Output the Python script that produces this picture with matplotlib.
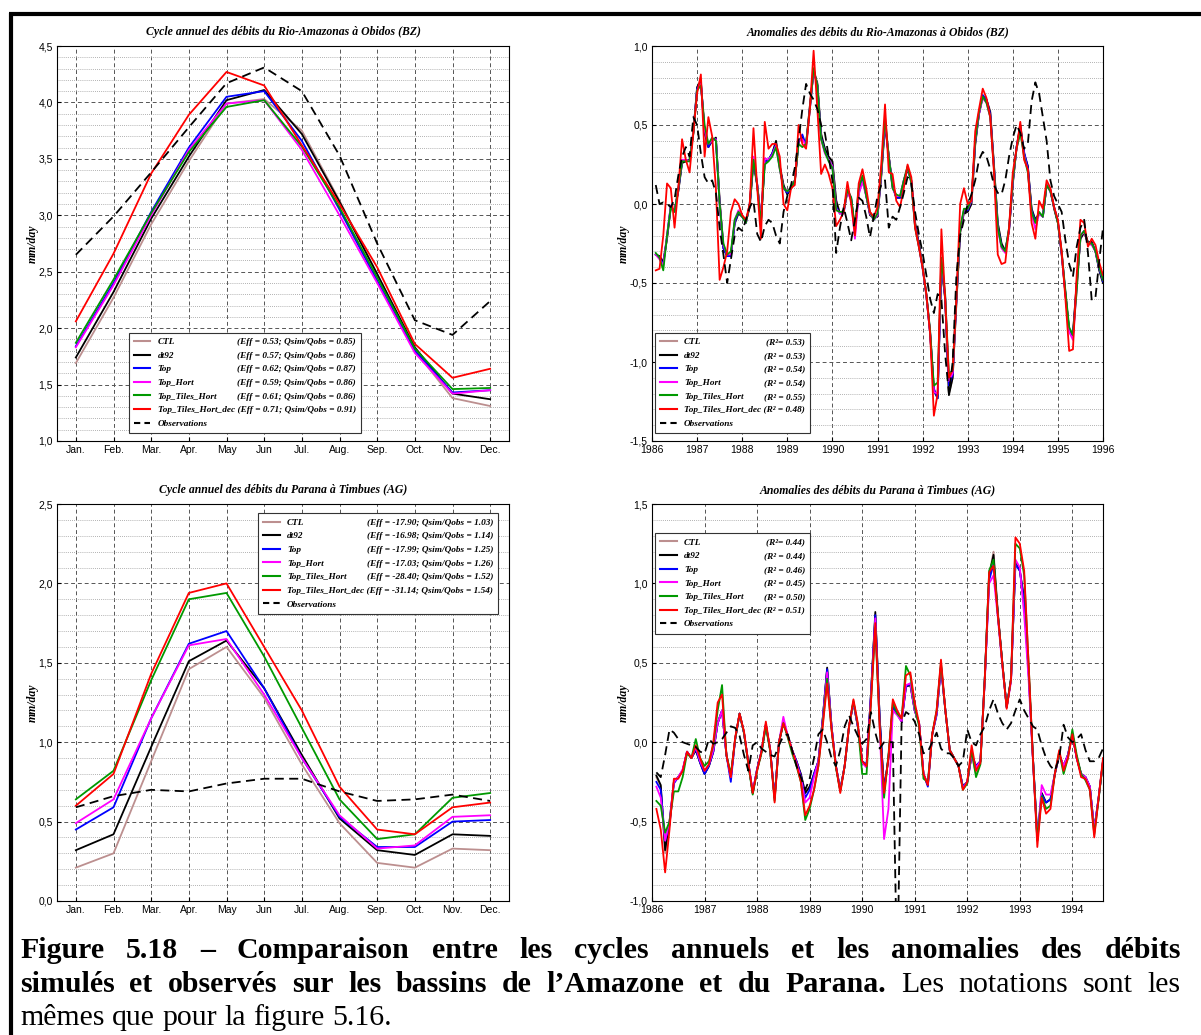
import numpy as np, matplotlib
matplotlib.use("Agg"); import matplotlib.pyplot as plt
from matplotlib.ticker import MultipleLocator, FuncFormatter
from matplotlib.lines import Line2D

W, H = 1201, 1035
plt.rcParams["font.family"] = ["Liberation Sans", "DejaVu Sans"]
SERIF = dict(family="Liberation Serif", style="italic", weight="bold")

names = ["CTL", "dt92", "Top", "Top_Hort", "Top_Tiles_Hort", "Top_Tiles_Hort_dec"]
colors = ["#bc8f8f", "#000000", "#0000ff", "#ff00ff", "#009900", "#ff0000"]
month_labels = ["Jan.", "Feb.", "Mar.", "Apr.", "May", "Jun", "Jul.", "Aug.", "Sep.", "Oct.", "Nov.", "Dec."]

# ---- Amazon at Obidos, annual cycle (mm/day)
amz_cyc_ctl = [1.69, 2.27, 2.92, 3.48, 3.99, 4.03, 3.75, 3.13, 2.48, 1.80, 1.38, 1.31]
amz_cyc_dt92 = [1.74, 2.32, 2.97, 3.52, 4.02, 4.11, 3.72, 3.12, 2.48, 1.83, 1.42, 1.37]
amz_cyc_top = [1.84, 2.40, 3.03, 3.60, 4.05, 4.10, 3.66, 3.05, 2.42, 1.80, 1.43, 1.45]
amz_cyc_top_hort = [1.83, 2.38, 3.00, 3.58, 3.99, 4.02, 3.58, 3.00, 2.40, 1.78, 1.42, 1.45]
amz_cyc_tiles = [1.87, 2.43, 3.02, 3.56, 3.96, 4.02, 3.61, 3.07, 2.45, 1.82, 1.46, 1.47]
amz_cyc_dec = [2.06, 2.66, 3.37, 3.89, 4.27, 4.15, 3.62, 3.10, 2.54, 1.86, 1.56, 1.64]
amz_cyc_obs = [2.65, 2.99, 3.38, 3.78, 4.17, 4.31, 4.10, 3.53, 2.75, 2.07, 1.94, 2.24]
amz_cyc_stats = ["(Eff = 0.53; Qsim/Qobs = 0.85)", "(Eff = 0.57; Qsim/Qobs = 0.86)",
                 "(Eff = 0.62; Qsim/Qobs = 0.87)", "(Eff = 0.59; Qsim/Qobs = 0.86)",
                 "(Eff = 0.61; Qsim/Qobs = 0.86)", "(Eff = 0.71; Qsim/Qobs = 0.91)"]

# ---- Parana at Timbues, annual cycle (mm/day)
par_cyc_ctl = [0.21, 0.30, 0.88, 1.46, 1.60, 1.28, 0.86, 0.49, 0.24, 0.21, 0.33, 0.32]
par_cyc_dt92 = [0.32, 0.42, 0.97, 1.51, 1.64, 1.34, 0.92, 0.52, 0.32, 0.29, 0.42, 0.41]
par_cyc_top = [0.45, 0.59, 1.15, 1.62, 1.70, 1.34, 0.90, 0.53, 0.34, 0.34, 0.50, 0.51]
par_cyc_top_hort = [0.49, 0.64, 1.15, 1.61, 1.65, 1.30, 0.90, 0.54, 0.33, 0.35, 0.53, 0.54]
par_cyc_tiles = [0.64, 0.82, 1.39, 1.90, 1.94, 1.54, 1.09, 0.64, 0.39, 0.42, 0.65, 0.68]
par_cyc_dec = [0.60, 0.80, 1.43, 1.94, 2.00, 1.60, 1.20, 0.72, 0.45, 0.42, 0.59, 0.62]
par_cyc_obs = [0.59, 0.66, 0.70, 0.69, 0.74, 0.77, 0.77, 0.69, 0.63, 0.64, 0.67, 0.63]
par_cyc_stats = ["(Eff = -17.90; Qsim/Qobs = 1.03)", "(Eff = -16.98; Qsim/Qobs = 1.14)",
                 "(Eff = -17.99; Qsim/Qobs = 1.25)", "(Eff = -17.03; Qsim/Qobs = 1.26)",
                 "(Eff = -28.40; Qsim/Qobs = 1.52)", "(Eff = -31.14; Qsim/Qobs = 1.54)"]

# ---- Amazon monthly anomalies, Feb 1986 .. Jan 1996 (mm/day)
amz_anom_ctl = [-0.32, -0.33, -0.36, -0.22, -0.03, -0.04, 0.08, 0.26, 0.27, 0.28, 0.44, 0.73,
                0.77, 0.45, 0.36, 0.40, 0.42, 0.03, -0.27, -0.33, -0.32, -0.13, -0.06, -0.08,
                -0.10, -0.02, 0.26, 0.11, -0.10, 0.26, 0.28, 0.32, 0.39, 0.24, 0.12, 0.06,
                0.10, 0.14, 0.40, 0.41, 0.38, 0.62, 0.83, 0.77, 0.45, 0.35, 0.30, 0.27,
                0.03, -0.06, -0.04, 0.08, 0.03, -0.16, 0.07, 0.16, 0.06, -0.07, -0.09, -0.08,
                0.17, 0.50, 0.31, 0.12, 0.04, 0.04, 0.14, 0.22, 0.15, -0.11, -0.25, -0.40,
                -0.58, -0.82, -1.17, -1.22, -0.40, -0.60, -1.20, -1.10, -0.63, -0.18, -0.06, -0.05,
                0.00, 0.37, 0.57, 0.68, 0.66, 0.59, 0.25, -0.12, -0.25, -0.29, -0.17, 0.12,
                0.36, 0.49, 0.32, 0.24, -0.03, -0.10, -0.06, -0.08, 0.12, 0.09, -0.03, -0.12,
                -0.32, -0.57, -0.80, -0.82, -0.50, -0.22, -0.18, -0.24, -0.24, -0.30, -0.42, -0.50]
amz_anom_dt92 = [-0.32, -0.33, -0.37, -0.22, -0.02, -0.04, 0.08, 0.26, 0.27, 0.28, 0.45, 0.74,
                 0.78, 0.45, 0.36, 0.40, 0.42, 0.02, -0.28, -0.33, -0.32, -0.12, -0.06, -0.08,
                 -0.11, -0.02, 0.27, 0.12, -0.10, 0.27, 0.28, 0.32, 0.40, 0.24, 0.12, 0.06,
                 0.10, 0.14, 0.40, 0.42, 0.38, 0.62, 0.84, 0.76, 0.44, 0.35, 0.30, 0.27,
                 0.02, -0.06, -0.04, 0.08, 0.03, -0.17, 0.07, 0.16, 0.06, -0.07, -0.09, -0.08,
                 0.18, 0.50, 0.30, 0.12, 0.04, 0.04, 0.14, 0.22, 0.15, -0.12, -0.25, -0.40,
                 -0.58, -0.82, -1.18, -1.23, -0.38, -0.60, -1.21, -1.10, -0.62, -0.18, -0.05, -0.05,
                 0.00, 0.38, 0.57, 0.68, 0.66, 0.58, 0.24, -0.12, -0.25, -0.30, -0.17, 0.13,
                 0.36, 0.50, 0.32, 0.24, -0.03, -0.10, -0.06, -0.08, 0.12, 0.09, -0.03, -0.12,
                 -0.32, -0.57, -0.80, -0.82, -0.50, -0.22, -0.18, -0.24, -0.24, -0.30, -0.42, -0.50]
amz_anom_top = [-0.32, -0.34, -0.38, -0.20, -0.01, -0.05, 0.09, 0.27, 0.28, 0.27, 0.46, 0.73,
                0.77, 0.46, 0.36, 0.41, 0.41, 0.00, -0.28, -0.33, -0.33, -0.12, -0.05, -0.08,
                -0.12, 0.00, 0.28, 0.12, -0.11, 0.27, 0.28, 0.32, 0.38, 0.23, 0.10, 0.07,
                0.10, 0.15, 0.39, 0.44, 0.37, 0.60, 0.85, 0.75, 0.42, 0.33, 0.28, 0.24,
                -0.02, -0.06, -0.05, 0.09, 0.04, -0.17, 0.09, 0.17, 0.05, -0.06, -0.10, -0.07,
                0.19, 0.52, 0.30, 0.11, 0.04, 0.04, 0.15, 0.23, 0.14, -0.14, -0.26, -0.40,
                -0.57, -0.81, -1.17, -1.23, -0.37, -0.59, -1.15, -1.08, -0.60, -0.16, -0.04, -0.04,
                0.02, 0.39, 0.57, 0.69, 0.66, 0.57, 0.23, -0.14, -0.27, -0.30, -0.16, 0.14,
                0.36, 0.48, 0.33, 0.23, -0.04, -0.11, -0.06, -0.08, 0.12, 0.08, -0.02, -0.11,
                -0.31, -0.56, -0.80, -0.84, -0.52, -0.20, -0.17, -0.25, -0.25, -0.30, -0.41, -0.49]
amz_anom_top_hort = [-0.32, -0.35, -0.39, -0.20, -0.01, -0.05, 0.10, 0.28, 0.28, 0.27, 0.46, 0.72,
                     0.76, 0.47, 0.38, 0.40, 0.41, 0.00, -0.26, -0.32, -0.32, -0.10, -0.04, -0.07,
                     -0.12, 0.00, 0.30, 0.13, -0.10, 0.29, 0.28, 0.31, 0.37, 0.22, 0.10, 0.08,
                     0.10, 0.15, 0.40, 0.41, 0.37, 0.60, 0.85, 0.74, 0.41, 0.32, 0.28, 0.24,
                     -0.03, -0.06, -0.06, 0.08, 0.02, -0.22, 0.06, 0.14, 0.05, -0.06, -0.10, -0.07,
                     0.19, 0.53, 0.30, 0.10, 0.05, 0.05, 0.15, 0.23, 0.14, -0.14, -0.27, -0.41,
                     -0.58, -0.82, -1.19, -1.20, -0.36, -0.58, -1.12, -1.07, -0.60, -0.16, -0.04, -0.03,
                     0.02, 0.40, 0.57, 0.67, 0.64, 0.55, 0.22, -0.16, -0.28, -0.31, -0.16, 0.14,
                     0.35, 0.46, 0.31, 0.21, -0.06, -0.16, -0.06, -0.08, 0.12, 0.08, -0.02, -0.11,
                     -0.31, -0.57, -0.81, -0.86, -0.54, -0.20, -0.18, -0.25, -0.26, -0.30, -0.40, -0.48]
amz_anom_tiles = [-0.31, -0.34, -0.42, -0.20, -0.02, -0.05, 0.10, 0.27, 0.27, 0.27, 0.45, 0.72,
                  0.75, 0.50, 0.38, 0.42, 0.40, 0.00, -0.25, -0.32, -0.30, -0.10, -0.05, -0.08,
                  -0.12, 0.00, 0.28, 0.12, -0.12, 0.25, 0.27, 0.30, 0.36, 0.22, 0.10, 0.08,
                  0.10, 0.15, 0.38, 0.36, 0.38, 0.60, 0.86, 0.75, 0.41, 0.33, 0.27, 0.23,
                  -0.04, -0.05, -0.05, 0.09, 0.04, -0.15, 0.10, 0.18, 0.05, -0.05, -0.10, -0.06,
                  0.20, 0.55, 0.30, 0.10, 0.06, 0.05, 0.15, 0.24, 0.13, -0.15, -0.27, -0.40,
                  -0.57, -0.80, -1.15, -1.13, -0.34, -0.57, -1.08, -1.05, -0.59, -0.15, -0.03, -0.03,
                  0.03, 0.40, 0.58, 0.68, 0.64, 0.55, 0.22, -0.15, -0.27, -0.30, -0.15, 0.15,
                  0.35, 0.45, 0.30, 0.20, -0.05, -0.12, -0.05, -0.08, 0.12, 0.08, -0.02, -0.12,
                  -0.30, -0.55, -0.78, -0.83, -0.55, -0.20, -0.17, -0.25, -0.25, -0.30, -0.40, -0.48]
amz_anom_dec = [-0.42, -0.41, -0.20, 0.13, 0.10, -0.15, 0.10, 0.41, 0.28, 0.20, 0.45, 0.70,
                0.82, 0.30, 0.55, 0.43, 0.10, -0.48, -0.40, -0.30, -0.05, 0.03, 0.00, -0.07,
                -0.10, 0.00, 0.48, 0.10, -0.22, 0.52, 0.35, 0.38, 0.38, 0.30, 0.00, -0.04,
                0.10, 0.12, 0.50, 0.38, 0.35, 0.60, 0.97, 0.60, 0.19, 0.25, 0.19, 0.10,
                -0.14, -0.10, -0.05, 0.14, 0.00, -0.20, 0.13, 0.22, 0.10, -0.05, -0.08, -0.02,
                0.25, 0.63, 0.20, 0.19, 0.02, -0.02, 0.10, 0.25, 0.17, -0.15, -0.27, -0.40,
                -0.57, -0.82, -1.34, -1.20, -0.16, -0.60, -1.10, -1.05, -0.59, 0.00, 0.10, 0.00,
                0.02, 0.46, 0.60, 0.73, 0.67, 0.55, 0.20, -0.32, -0.38, -0.37, -0.15, 0.20,
                0.35, 0.52, 0.28, 0.22, -0.12, -0.22, 0.02, -0.03, 0.15, 0.10, -0.02, -0.10,
                -0.30, -0.60, -0.93, -0.92, -0.45, -0.10, -0.12, -0.27, -0.22, -0.26, -0.37, -0.45]
amz_anom_obs = [0.12, 0.00, 0.01, 0.00, -0.02, 0.03, 0.18, 0.30, 0.36, 0.30, 0.55, 0.50,
                0.32, 0.17, 0.13, 0.15, 0.07, -0.15, -0.32, -0.50, -0.35, -0.20, -0.15, -0.17,
                -0.10, -0.02, 0.02, -0.19, -0.24, -0.14, -0.10, -0.12, -0.20, -0.25, -0.05, 0.05,
                0.12, 0.23, 0.40, 0.60, 0.76, 0.70, 0.66, 0.60, 0.50, 0.45, 0.30, 0.15,
                -0.31, -0.15, -0.02, -0.12, -0.23, -0.10, 0.04, 0.02, -0.08, -0.21, -0.08, 0.05,
                0.12, 0.15, -0.15, -0.08, -0.10, -0.02, 0.07, 0.17, 0.13, -0.05, -0.19, -0.31,
                -0.45, -0.60, -0.69, -0.57, -0.60, -0.95, -1.20, -1.00, -0.45, -0.20, -0.10, 0.00,
                0.06, 0.15, 0.28, 0.33, 0.30, 0.22, 0.12, 0.07, 0.06, 0.15, 0.30, 0.42,
                0.50, 0.45, 0.35, 0.38, 0.65, 0.77, 0.70, 0.55, 0.40, 0.15, 0.05, 0.00,
                -0.05, -0.23, -0.38, -0.46, -0.27, -0.15, -0.10, -0.31, -0.61, -0.59, -0.36, -0.15]
amz_anom_stats = ["(R²= 0.53)", "(R² = 0.53)", "(R² = 0.54)", "(R² = 0.54)", "(R² = 0.55)", "(R² = 0.48)"]

# ---- Parana monthly anomalies, Feb 1986 .. Aug 1994 (mm/day)
par_anom_ctl = [-0.22, -0.28, -0.70, -0.52, -0.25, -0.22, -0.18, -0.06, -0.10, -0.05, -0.13, -0.20,
                -0.15, -0.06, 0.12, 0.19, -0.08, -0.22, 0.02, 0.18, 0.06, -0.13, -0.32, -0.17,
                -0.06, 0.11, -0.05, -0.35, 0.00, 0.12, 0.04, -0.05, -0.12, -0.20, -0.32, -0.28,
                -0.20, -0.12, 0.15, 0.46, 0.10, -0.15, -0.30, -0.15, 0.10, 0.25, 0.10, -0.12,
                -0.15, 0.30, 0.80, 0.15, -0.30, -0.10, 0.22, 0.18, 0.13, 0.35, 0.36, 0.20,
                0.12, -0.20, -0.27, 0.05, 0.18, 0.47, 0.20, -0.05, -0.10, -0.15, -0.28, -0.26,
                -0.08, -0.20, -0.12, 0.40, 1.05, 1.20, 0.82, 0.50, 0.22, 0.40, 1.13, 1.08,
                0.90, 0.45, -0.10, -0.62, -0.32, -0.38, -0.36, -0.20, -0.08, -0.15, -0.08, 0.05,
                -0.10, -0.20, -0.22, -0.28, -0.57, -0.35, -0.12]
par_anom_dt92 = [-0.21, -0.27, -0.68, -0.50, -0.25, -0.22, -0.18, -0.06, -0.10, -0.05, -0.13, -0.20,
                 -0.15, -0.06, 0.12, 0.20, -0.08, -0.22, 0.02, 0.18, 0.06, -0.13, -0.32, -0.17,
                 -0.06, 0.11, -0.05, -0.35, 0.00, 0.12, 0.04, -0.05, -0.12, -0.20, -0.32, -0.28,
                 -0.20, -0.12, 0.15, 0.47, 0.10, -0.15, -0.30, -0.15, 0.10, 0.25, 0.10, -0.12,
                 -0.15, 0.30, 0.82, 0.15, -0.30, -0.10, 0.22, 0.18, 0.13, 0.35, 0.36, 0.20,
                 0.12, -0.20, -0.27, 0.05, 0.18, 0.48, 0.20, -0.05, -0.10, -0.15, -0.28, -0.25,
                 -0.08, -0.15, -0.12, 0.40, 1.05, 1.18, 0.80, 0.50, 0.22, 0.40, 1.13, 1.08,
                 0.90, 0.45, -0.10, -0.60, -0.32, -0.38, -0.36, -0.20, -0.08, -0.15, -0.08, 0.05,
                 -0.10, -0.20, -0.22, -0.28, -0.55, -0.35, -0.12]
par_anom_top = [-0.25, -0.30, -0.62, -0.52, -0.26, -0.22, -0.18, -0.06, -0.10, -0.04, -0.13, -0.20,
                -0.15, -0.06, 0.12, 0.20, -0.08, -0.25, 0.02, 0.18, 0.06, -0.13, -0.32, -0.17,
                -0.06, 0.11, -0.05, -0.35, 0.00, 0.13, 0.04, -0.05, -0.12, -0.21, -0.35, -0.30,
                -0.20, -0.12, 0.15, 0.46, 0.10, -0.15, -0.30, -0.15, 0.10, 0.25, 0.10, -0.12,
                -0.14, 0.30, 0.80, 0.15, -0.30, -0.10, 0.22, 0.18, 0.13, 0.35, 0.37, 0.20,
                0.12, -0.20, -0.28, 0.05, 0.17, 0.48, 0.20, -0.05, -0.10, -0.15, -0.28, -0.25,
                -0.08, -0.15, -0.12, 0.40, 1.02, 1.12, 0.80, 0.50, 0.22, 0.40, 1.12, 1.08,
                0.88, 0.45, -0.10, -0.60, -0.33, -0.38, -0.36, -0.20, -0.08, -0.15, -0.08, 0.05,
                -0.10, -0.20, -0.22, -0.28, -0.55, -0.35, -0.12]
par_anom_top_hort = [-0.28, -0.35, -0.62, -0.50, -0.25, -0.22, -0.17, -0.06, -0.10, -0.03, -0.12, -0.18,
                     -0.14, -0.05, 0.12, 0.20, -0.08, -0.22, 0.02, 0.18, 0.06, -0.13, -0.31, -0.17,
                     -0.06, 0.11, -0.05, -0.36, 0.00, 0.16, 0.04, -0.05, -0.13, -0.22, -0.38, -0.35,
                     -0.22, -0.12, 0.14, 0.44, 0.10, -0.15, -0.30, -0.15, 0.10, 0.25, 0.10, -0.13,
                     -0.16, 0.28, 0.78, 0.10, -0.61, -0.42, 0.20, 0.17, 0.13, 0.36, 0.37, 0.20,
                     0.12, -0.20, -0.26, 0.05, 0.18, 0.48, 0.20, -0.05, -0.10, -0.15, -0.29, -0.25,
                     -0.08, -0.16, -0.12, 0.38, 1.00, 1.05, 0.78, 0.48, 0.22, 0.38, 1.15, 1.10,
                     0.80, 0.40, -0.12, -0.62, -0.27, -0.33, -0.33, -0.20, -0.08, -0.15, -0.08, 0.05,
                     -0.10, -0.20, -0.22, -0.28, -0.55, -0.35, -0.12]
par_anom_tiles = [-0.37, -0.40, -0.57, -0.50, -0.31, -0.31, -0.22, -0.07, -0.10, 0.02, -0.10, -0.15,
                  -0.12, -0.02, 0.20, 0.36, -0.08, -0.20, 0.02, 0.18, 0.06, -0.14, -0.33, -0.18,
                  -0.07, 0.10, -0.06, -0.37, 0.00, 0.12, 0.03, -0.07, -0.15, -0.25, -0.49, -0.42,
                  -0.30, -0.15, 0.12, 0.40, 0.08, -0.16, -0.31, -0.15, 0.10, 0.26, 0.11, -0.20,
                  -0.20, 0.25, 0.72, 0.10, -0.35, -0.08, 0.25, 0.18, 0.15, 0.48, 0.42, 0.22,
                  0.10, -0.23, -0.25, 0.05, 0.20, 0.50, 0.20, -0.05, -0.10, -0.15, -0.30, -0.26,
                  -0.05, -0.22, -0.14, 0.40, 1.08, 1.15, 0.80, 0.50, 0.22, 0.40, 1.25, 1.22,
                  1.05, 0.50, -0.10, -0.62, -0.34, -0.42, -0.40, -0.20, -0.06, -0.20, -0.10, 0.08,
                  -0.08, -0.20, -0.24, -0.30, -0.58, -0.36, -0.12]
par_anom_dec = [-0.42, -0.55, -0.82, -0.55, -0.23, -0.23, -0.18, -0.06, -0.10, -0.02, -0.10, -0.18,
                -0.14, 0.00, 0.25, 0.30, -0.08, -0.22, 0.03, 0.18, 0.07, -0.13, -0.32, -0.18,
                -0.06, 0.13, -0.05, -0.38, 0.00, 0.12, 0.04, -0.05, -0.14, -0.25, -0.46, -0.40,
                -0.30, -0.15, 0.10, 0.37, 0.08, -0.15, -0.32, -0.15, 0.10, 0.27, 0.12, -0.12,
                -0.15, 0.25, 0.75, 0.10, -0.32, -0.10, 0.27, 0.20, 0.15, 0.42, 0.44, 0.25,
                0.12, -0.20, -0.27, 0.05, 0.20, 0.52, 0.20, -0.05, -0.10, -0.15, -0.30, -0.25,
                -0.02, -0.18, -0.13, 0.40, 1.07, 1.11, 0.80, 0.50, 0.21, 0.40, 1.29, 1.25,
                1.08, 0.50, -0.10, -0.66, -0.35, -0.45, -0.42, -0.20, -0.05, -0.18, -0.10, 0.05,
                -0.10, -0.22, -0.23, -0.30, -0.60, -0.35, -0.10]
par_anom_obs = [-0.19, -0.22, -0.08, 0.08, 0.06, 0.02, 0.00, -0.01, -0.02, -0.03, -0.06, -0.07,
                0.02, -0.01, 0.00, 0.02, 0.06, 0.10, 0.09, 0.04, -0.08, -0.18, -0.02, 0.00,
                -0.04, -0.06, -0.08, -0.09, -0.02, 0.04, 0.05, -0.05, -0.15, -0.22, -0.30, -0.23,
                -0.10, 0.05, 0.08, 0.00, -0.10, -0.15, -0.05, 0.10, 0.17, 0.10, 0.04, -0.01,
                0.02, 0.19, 0.06, -0.04, 0.00, 0.00, 0.00, -1.50, 0.12, 0.19, 0.17, 0.13,
                0.05, -0.07, -0.06, 0.00, 0.06, -0.04, -0.07, -0.07, -0.10, -0.15, -0.12, 0.08,
                0.00, -0.02, 0.05, 0.10, 0.20, 0.27, 0.18, 0.12, 0.08, 0.12, 0.20, 0.27,
                0.20, 0.15, 0.10, 0.08, -0.02, -0.10, -0.15, -0.18, -0.10, 0.11, 0.03, 0.00,
                0.02, 0.05, -0.05, -0.12, -0.12, -0.10, -0.04]
par_anom_stats = ["(R²= 0.44)", "(R² = 0.44)", "(R² = 0.46)", "(R² = 0.45)", "(R² = 0.50)", "(R² = 0.51)"]

fig = plt.figure(figsize=(W / 100, H / 100), dpi=100)
legends = []
LEG = 6.7

def fmt_comma(v, p):
    return f"{round(v, 3) + 0.0:.1f}".replace(".", ",")

def panel(rect, x, runs, obs, stats, title, ylim, loc, anchor):
    l, t, w, h = rect
    ax = fig.add_axes([l / W, 1 - (t + h) / H, w / W, h / H])
    for y, c in zip(runs, colors):
        ax.plot(x, y, color=c, lw=1.3)
    ax.plot(x, obs, color="black", lw=1.3, ls=(0, (5, 3)))
    ax.set_ylim(*ylim)
    ax.yaxis.set_major_locator(MultipleLocator(0.5))
    ax.yaxis.set_minor_locator(MultipleLocator(0.1))
    ax.yaxis.set_major_formatter(FuncFormatter(fmt_comma))
    ax.grid(which="major", ls=(0, (4, 3)), color="#555555", lw=0.7)
    ax.grid(which="minor", axis="y", ls=(0, (1, 1.5)), color="#999999", lw=0.6)
    ax.tick_params(which="major", direction="in", labelsize=7.5, length=3, pad=3)
    ax.tick_params(which="minor", length=0)
    for s in ax.spines.values():
        s.set_linewidth(0.8)
    ax.set_title(title, fontsize=8.5, pad=8, **SERIF)
    ax.set_ylabel("mm/day", fontsize=8.5, labelpad=0, **SERIF)
    hs = [Line2D([], [], color=c, lw=1.5) for c in colors]
    hs.append(Line2D([], [], color="black", lw=1.5, ls=(0, (3, 2))))
    labs = names[:5] + [names[5] + " " + stats[5], "Observations"]
    leg = ax.legend(hs, labs, loc=loc, bbox_to_anchor=anchor, borderaxespad=0,
                    fancybox=False, framealpha=1, edgecolor="#333333", handlelength=1.75,
                    handletextpad=0.8, labelspacing=0.55, borderpad=0.55,
                    prop=dict(size=LEG, **SERIF))
    leg.get_frame().set_linewidth(0.8)
    legends.append((leg, stats))
    return ax

months = np.arange(1, 13)
t_amz = 1986 + np.arange(1, len(amz_anom_obs) + 1) / 12
t_par = 1986 + np.arange(1, len(par_anom_obs) + 1) / 12

ax1 = panel((57, 46, 452, 395), months,
            [amz_cyc_ctl, amz_cyc_dt92, amz_cyc_top, amz_cyc_top_hort, amz_cyc_tiles, amz_cyc_dec],
            amz_cyc_obs, amz_cyc_stats, "Cycle annuel des débits du Rio-Amazonas à Obidos (BZ)",
            (1.0, 4.5), "lower left", (0.159, 0.02))
ax2 = panel((652, 46, 451, 395), t_amz,
            [amz_anom_ctl, amz_anom_dt92, amz_anom_top, amz_anom_top_hort, amz_anom_tiles, amz_anom_dec],
            amz_anom_obs, amz_anom_stats, "Anomalies des débits du Rio-Amazonas à Obidos (BZ)",
            (-1.5, 1.0), "lower left", (0.007, 0.02))
ax3 = panel((57, 504, 452, 397), months,
            [par_cyc_ctl, par_cyc_dt92, par_cyc_top, par_cyc_top_hort, par_cyc_tiles, par_cyc_dec],
            par_cyc_obs, par_cyc_stats, "Cycle annuel des débits du Parana à Timbues (AG)",
            (0.0, 2.5), "upper right", (0.976, 0.977))
ax4 = panel((652, 504, 451, 397), t_par,
            [par_anom_ctl, par_anom_dt92, par_anom_top, par_anom_top_hort, par_anom_tiles, par_anom_dec],
            par_anom_obs, par_anom_stats, "Anomalies des débits du Parana à Timbues (AG)",
            (-1.0, 1.5), "upper left", (0.007, 0.927))

for ax in (ax1, ax3):
    ax.set_xlim(0.5, 12.5)
    ax.set_xticks(months, month_labels)
ax2.set_xlim(1986, 1996); ax2.set_xticks(range(1986, 1997))
ax4.set_xlim(1986, t_par[-1]); ax4.set_xticks(range(1986, 1995))
for ax in (ax2, ax4):
    ax.xaxis.set_major_formatter(FuncFormatter(lambda v, p: f"{int(round(v))}"))

# statistics column of each legend, right-aligned on the longest entry
fig.canvas.draw()
r = fig.canvas.get_renderer()
for leg, stats in legends:
    txt = leg.get_texts()
    right = txt[5].get_window_extent(r).x1
    for t, s in zip(txt[:5], stats[:5]):
        bb = t.get_window_extent(r)
        fig.text(right / W, (bb.y0 + bb.y1) / 2 / H, s, ha="right", va="center", fontsize=LEG, **SERIF)

# page border
fig.add_artist(Line2D([9 / W, 1], [1 - 14 / H] * 2, transform=fig.transFigure, color="black", lw=3,
                      solid_capstyle="butt"))
fig.add_artist(Line2D([10.5 / W] * 2, [0, 1 - 12.5 / H], transform=fig.transFigure, color="black", lw=3,
                      solid_capstyle="butt"))

# caption, justified like the thesis page
CAP = 21.5
def caption_line(parts, base, x0=20, x1=1181, justify=True):
    words = [(w, wt) for txt, wt in parts for w in txt.split()]
    ts = [fig.text(0, 1 - base / H, w, fontsize=CAP, family="Liberation Serif", weight=wt, va="baseline")
          for w, wt in words]
    ws = [t.get_window_extent(r).width for t in ts]
    gap = (x1 - x0 - sum(ws)) / (len(ws) - 1) if justify else CAP * 100 / 72 * 0.25
    x = x0
    for t, w in zip(ts, ws):
        t.set_x(x / W); x += w + gap

caption_line([("Figure 5.18 – Comparaison entre les cycles annuels et les anomalies des débits", "bold")], 958)
caption_line([("simulés et observés sur les bassins de l’Amazone et du Parana.", "bold"),
              ("Les notations sont les", "normal")], 992)
caption_line([("mêmes que pour la figure 5.16.", "normal")], 1025, justify=False)

fig.savefig("out.png", dpi=100)
